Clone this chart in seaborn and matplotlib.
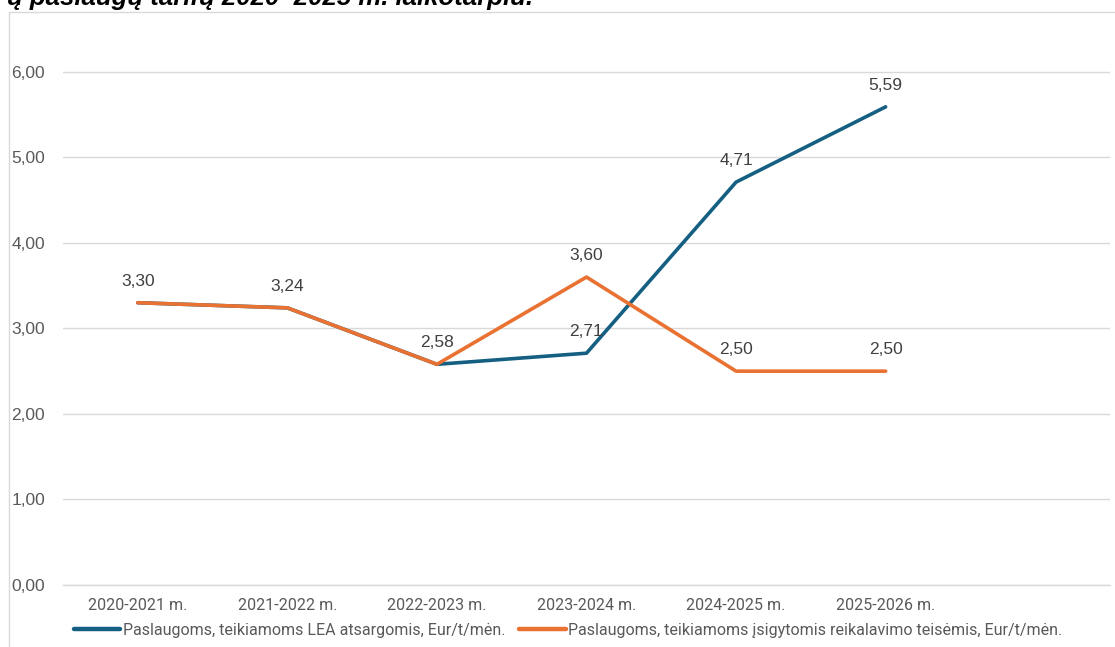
import matplotlib
matplotlib.use("Agg")
import matplotlib.pyplot as plt
from matplotlib.patches import Rectangle
import seaborn as sns
import pandas as pd

# Tariff periods and the two service tariffs (Eur/t/mėn.)
periods = ["2020-2021 m.", "2021-2022 m.", "2022-2023 m.",
           "2023-2024 m.", "2024-2025 m.", "2025-2026 m."]
lea_tariff = [3.30, 3.24, 2.58, 2.71, 4.71, 5.59]
claim_tariff = [3.30, 3.24, 2.58, 3.60, 2.50, 2.50]

lea_name = "Paslaugoms, teikiamoms LEA atsargomis, Eur/t/mėn."
claim_name = "Paslaugoms, teikiamoms įsigytomis reikalavimo teisėmis, Eur/t/mėn."

title_text = "ų paslaugų tarifų 2020–2025 m. laikotarpiu."

df = pd.DataFrame({
    "period": periods * 2,
    "value": lea_tariff + claim_tariff,
    "series": [lea_name] * len(periods) + [claim_name] * len(periods),
})

sns.set_theme(style="white")
plt.rcParams["font.family"] = ["Liberation Sans", "DejaVu Sans"]

BLUE = "#156082"
ORANGE = "#E97132"
GRID = "#D9D9D9"
TEXT = "#595959"
LABEL = "#404040"

fig = plt.figure(figsize=(11.15, 6.47), dpi=100)
fig.patch.set_facecolor("white")

# Chart frame (extends beyond right and bottom edges)
fig.patches.append(Rectangle((9 / 1115, -0.1), 1.2, (647 - 12) / 647 + 0.1,
                             transform=fig.transFigure, fill=False,
                             edgecolor=GRID, linewidth=1.0, zorder=0))

ax = fig.add_axes([63 / 1115, (647 - 585) / 647, (1110 - 63) / 1115, (585 - 29) / 647])
ax.set_facecolor("none")

sns.lineplot(data=df, x="period", y="value", hue="series",
             hue_order=[lea_name, claim_name], palette=[BLUE, ORANGE],
             linewidth=2.6, sort=False, ax=ax, legend=False)
# orange on top of blue
ax.lines[1].set_zorder(3)
ax.lines[0].set_zorder(2)

ax.set_xlim(-0.5, 6.5)
ax.set_ylim(0, 6.5)
ax.set_yticks(range(0, 7))
ax.set_yticklabels([f"{v:.2f}".replace(".", ",") for v in range(0, 7)],
                   family=["Liberation Sans", "DejaVu Sans"])
ax.yaxis.grid(True, color=GRID, linewidth=1.0)
ax.set_axisbelow(True)
for side in ["left", "right", "top"]:
    ax.spines[side].set_visible(False)
ax.spines["bottom"].set_color(GRID)
ax.spines["bottom"].set_linewidth(1.0)
ax.tick_params(axis="both", length=0)
ax.tick_params(axis="y", labelsize=12.5, labelcolor=TEXT, pad=37)
for lab in ax.get_yticklabels():
    lab.set_horizontalalignment("left")
ax.tick_params(axis="x", pad=9, labelsize=11.5, labelcolor=TEXT)
for lab in ax.get_xticklabels():
    lab.set_fontfamily(["Roboto", "DejaVu Sans"])
ax.set_xlabel("")
ax.set_ylabel("")


def fmt(v):
    return f"{v:.2f}".replace(".", ",")


# data labels
label_font = dict(fontsize=12.5, color=LABEL, family=["Liberation Sans", "DejaVu Sans"])
for i, v in enumerate(lea_tariff):
    ax.annotate(fmt(v), (i, v), xytext=(0, 10), textcoords="offset points",
                ha="center", va="bottom", zorder=5, **label_font)
for i, v in enumerate(claim_tariff):
    if v == lea_tariff[i]:
        continue
    ax.annotate(fmt(v), (i, v), xytext=(0, 10), textcoords="offset points",
                ha="center", va="bottom", zorder=5, **label_font)

# legend below the category labels
handles = [plt.Line2D([], [], color=BLUE, linewidth=3.2),
           plt.Line2D([], [], color=ORANGE, linewidth=3.2)]
fig.legend(handles, [lea_name, claim_name], loc="center",
           bbox_to_anchor=(568 / 1115, (647 - 630) / 647), ncol=2,
           frameon=False, handlelength=2.9, handletextpad=0.15,
           columnspacing=0.9,
           prop={"family": ["Roboto", "DejaVu Sans"], "size": 11.5},
           labelcolor=TEXT)

fig.text(533 / 1115, (647 - 5) / 647, title_text, ha="right", va="baseline",
         fontsize=18.5, fontweight="bold", fontstyle="italic", color="black")

fig.savefig("out.png", dpi=100, facecolor="white")
